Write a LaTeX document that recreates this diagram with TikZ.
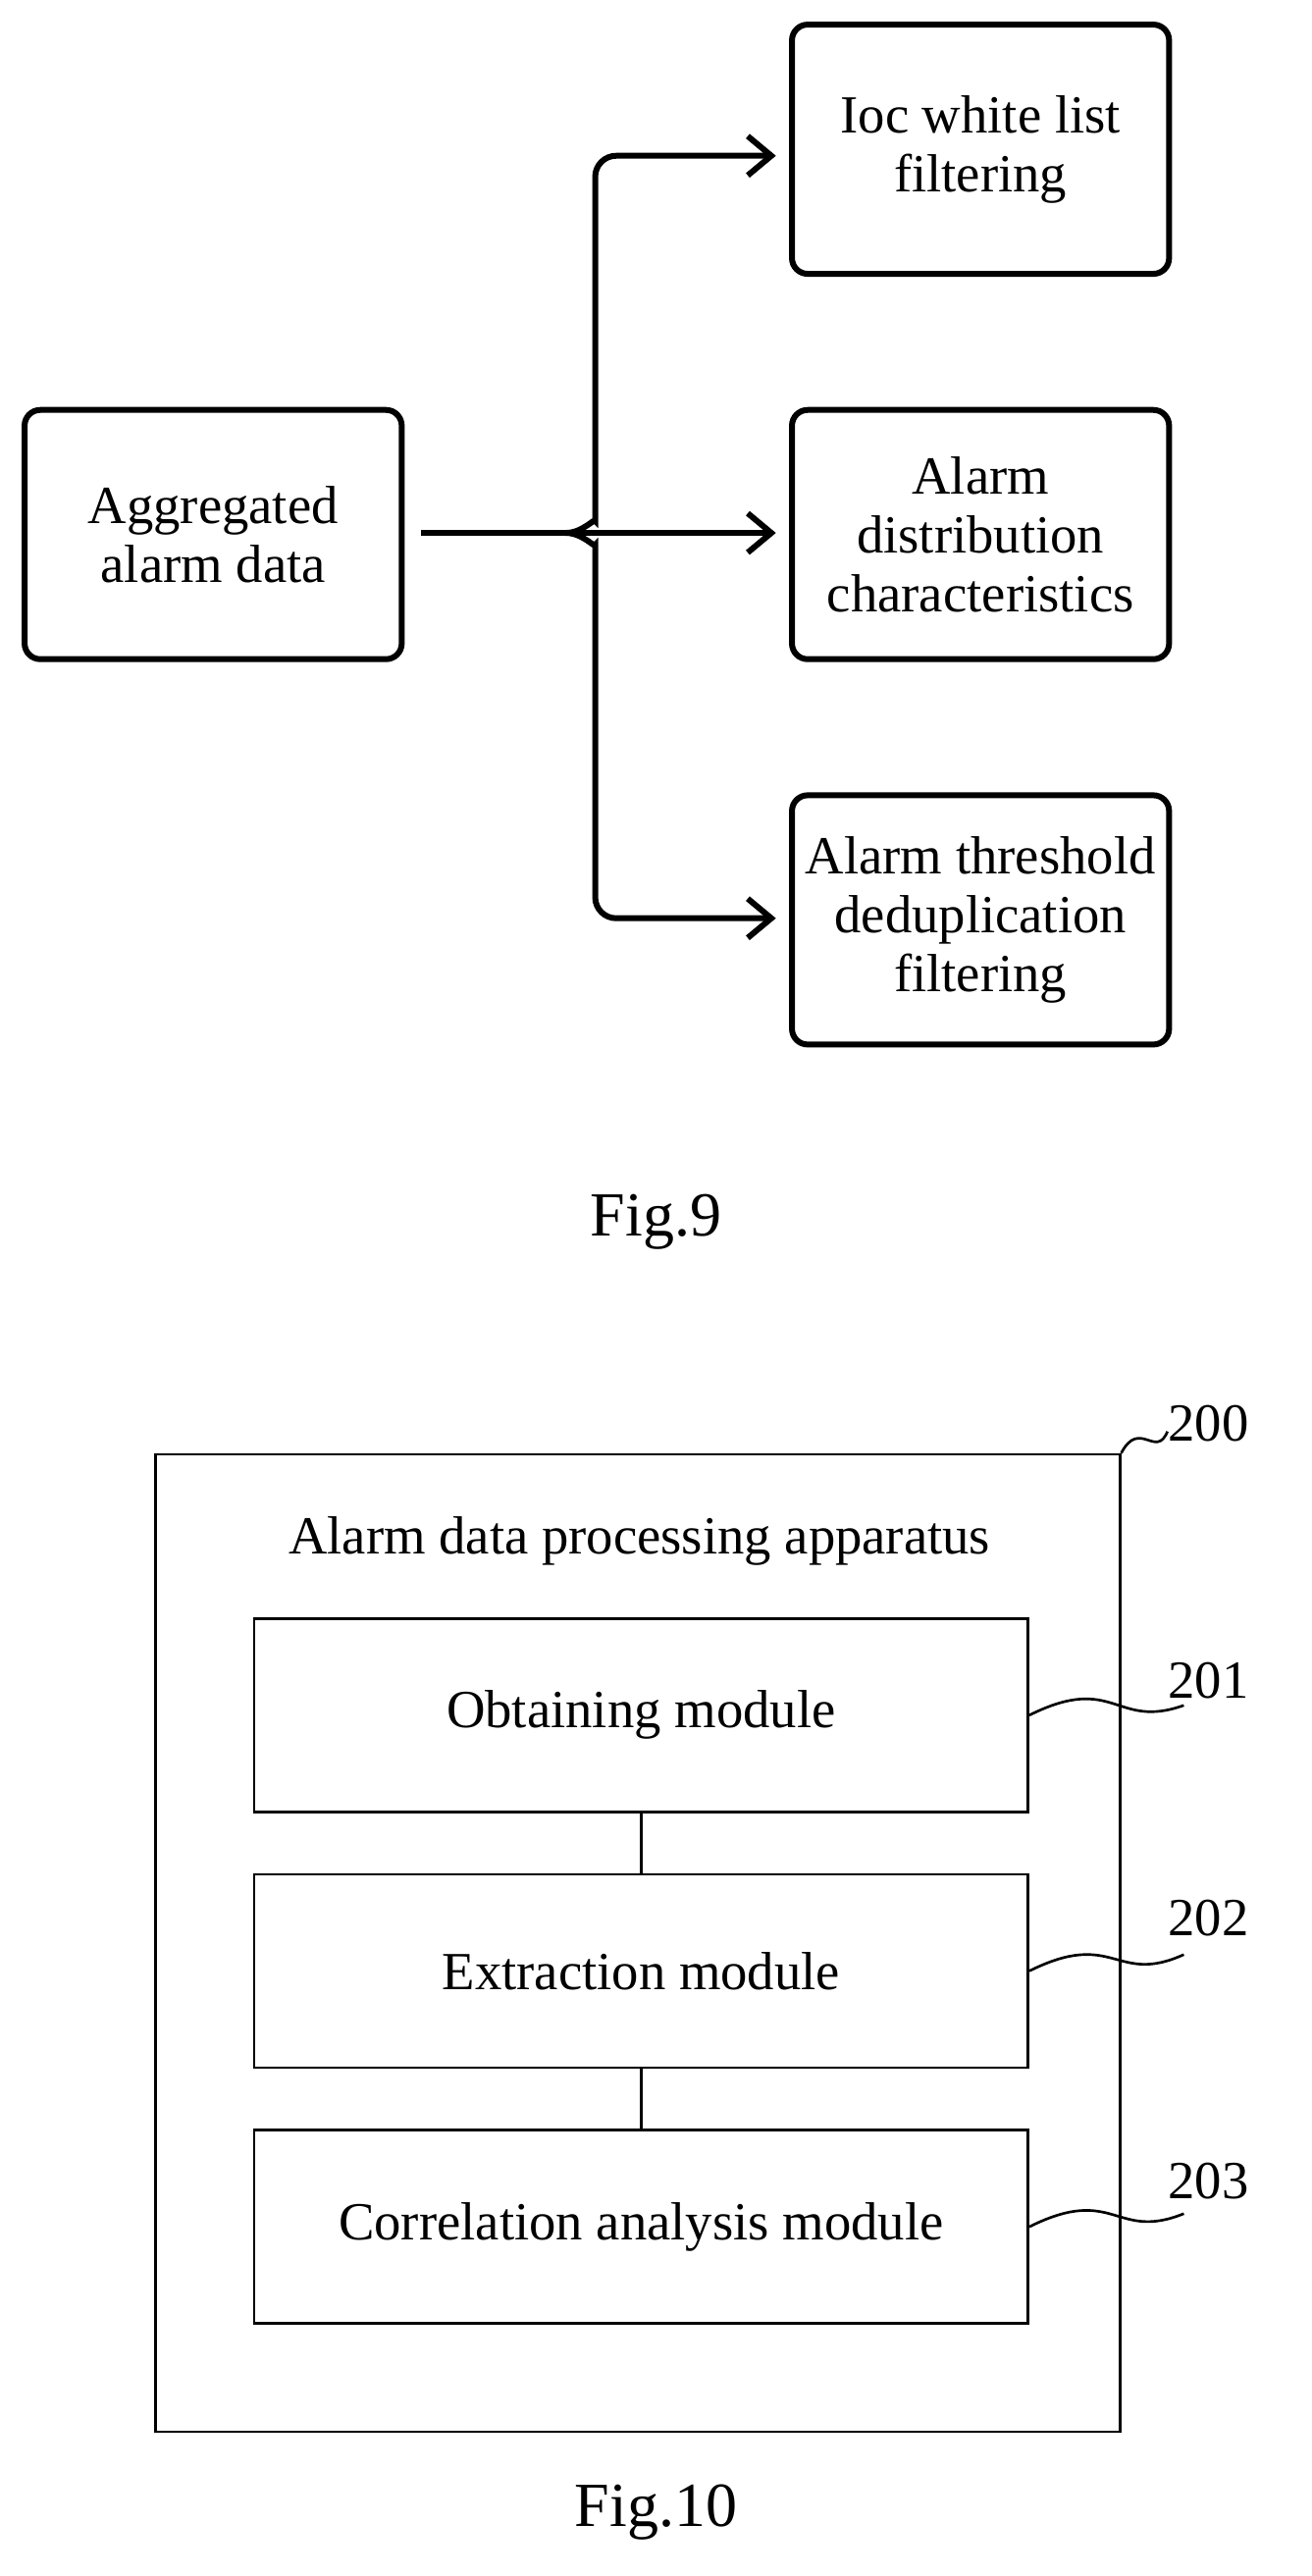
\documentclass[tikz,border=0pt]{standalone}
\usepackage{fontspec}
\setmainfont{Liberation Serif}
\usetikzlibrary{arrows.meta}
\begin{document}
\begin{tikzpicture}[x=1.253pt,y=-1.253pt,
  rb/.style={draw,line width=4.5pt,rounded corners=12pt,minimum width=230*1.253pt,minimum height=152*1.253pt,align=center,font=\fontsize{41}{45}\selectfont},
  thk/.style={line width=4.5pt},
  arr/.style={thk,-{Straight Barb[length=18pt,width=30pt,line width=4.5pt]}},
  mb/.style={draw,line width=2pt,minimum width=472*1.253pt,minimum height=118*1.253pt,font=\fontsize{41}{45}\selectfont},
  lbl/.style={font=\fontsize{41}{45}\selectfont},
  fig/.style={font=\fontsize{48}{54}\selectfont},
  wv/.style={line width=2pt}]
\useasboundingbox (0,0) rectangle (800,1571);
\node[rb] (agg) at (130,326) {Aggregated\\alarm data};
\node[rb] (ioc) at (598,91) {Ioc white list\\filtering};
\node[rb] (dist) at (598,326) {Alarm\\distribution\\characteristics};
\node[rb] (thr) at (598,561) {Alarm threshold\\deduplication\\filtering};
\coordinate (tip) at (345,325);
\draw[thk] (agg.east)+(10,-1) -- (tip);
\draw[arr] (tip) -- ([xshift=-8*1.253pt]dist.west |- tip);
\draw[arr,rounded corners=16pt] (tip) to[out=0,in=-90] (363,305) -- (363,95) -- ([xshift=-8*1.253pt]ioc.west |- 0,95);
\draw[arr,rounded corners=16pt] (tip) to[out=0,in=90] (363,345) -- (363,560) -- ([xshift=-8*1.253pt]thr.west |- 0,560);
\node[fig] (f9) at (400,745) {Fig.9};

\node[draw,line width=2pt,minimum width=588*1.253pt,minimum height=596*1.253pt] (app) at (389,1185) {};
\node[lbl] (title) at (390,940) {Alarm data processing apparatus};
\node[mb] (m1) at (391,1046) {Obtaining module};
\node[mb] (m2) at (391,1202) {Extraction module};
\node[mb] (m3) at (391,1358) {Correlation analysis module};
\draw[line width=2pt] (m1.south) -- (m2.north);
\draw[line width=2pt] (m2.south) -- (m3.north);
\node[lbl] (l200) at (737,868) {200};
\node[lbl] (l201) at (737,1025) {201};
\node[lbl] (l202) at (737,1170) {202};
\node[lbl] (l203) at (737,1330) {203};
\draw[wv] (app.north east) .. controls (695,865) and (705,890) .. (712,873);
\draw[wv] (m1.east) .. controls (680,1020) and (680,1055) .. (722,1040);
\draw[wv] (m2.east) .. controls (680,1176) and (680,1211) .. (722,1192);
\draw[wv] (m3.east) .. controls (680,1332) and (680,1367) .. (722,1350);
\node[fig] (f10) at (400,1532) {Fig.10};
\end{tikzpicture}
\end{document}
